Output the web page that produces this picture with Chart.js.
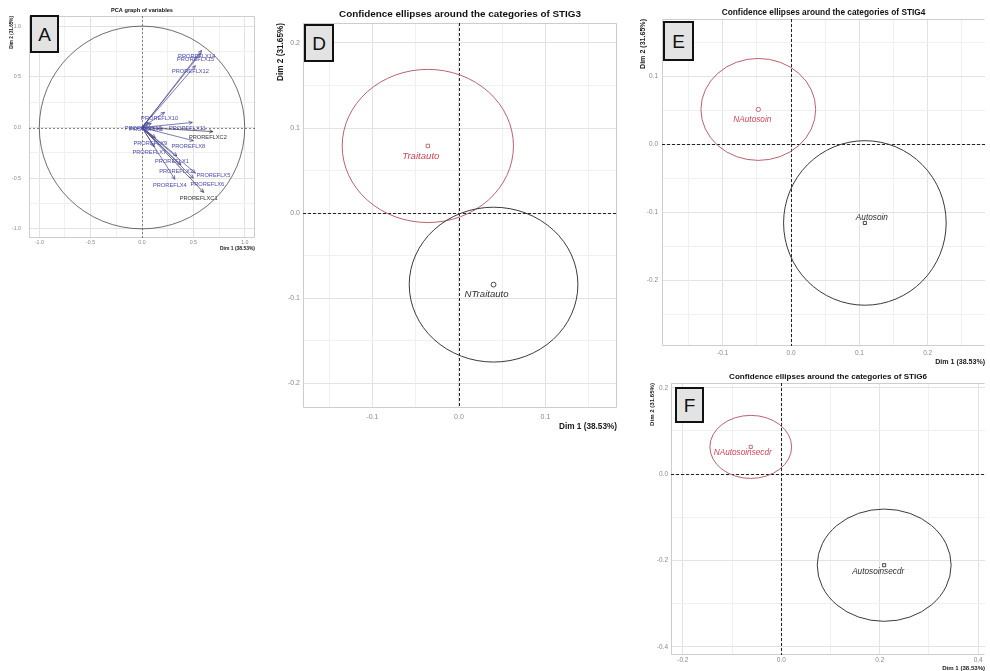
<!DOCTYPE html>
<html><head><meta charset="utf-8">
<script src="https://cdn.jsdelivr.net/npm/chart.js@4.4.1/dist/chart.umd.min.js"></script>
<style>
html,body{margin:0;padding:0;background:#fff}
body{width:990px;height:671px;overflow:hidden;position:relative}
canvas{position:absolute;display:block}
.tag{position:absolute;box-sizing:border-box;background:#e3e3e3;border:2px solid #111;color:#111;font-family:'Liberation Sans',Arial,sans-serif;font-size:19px;line-height:1;display:flex;align-items:center;justify-content:center}
</style></head><body>
<canvas id="cA" width="262" height="256" style="left:0;top:0"></canvas>
<canvas id="cD" width="360" height="440" style="left:270px;top:0"></canvas>
<canvas id="cE" width="360" height="372" style="left:630px;top:0"></canvas>
<canvas id="cF" width="360" height="306" style="left:630px;top:370px"></canvas>
<div class="tag" style="left:30px;top:15px;width:29px;height:38px">A</div>
<div class="tag" style="left:304px;top:24px;width:30px;height:38px">D</div>
<div class="tag" style="left:663px;top:21px;width:31px;height:40px">E</div>
<div class="tag" style="left:675px;top:387px;width:29px;height:36px">F</div>
<script>
// ---------------- DATA ----------------
const dimLabel1 = 'Dim 1 (38.53%)';
const dimLabel2 = 'Dim 2 (31.65%)';

// Panel A: PCA graph of variables (arrow end coordinates)
const pcaVariables = ['PROREFLX14','PROREFLX15','PROREFLX12','PROREFLX10','PROREFLX13','PROREFLX2','PROREFLX11','PROREFLXC2','PROREFLX9','PROREFLX8','PROREFLX7','PROREFLX1','PROREFLX3','PROREFLX5','PROREFLX6','PROREFLX4','PROREFLXC1'];
const pcaDim1 = [0.58, 0.57, 0.52, 0.22, 0.06, 0.09, 0.49, 0.69, 0.13, 0.50, 0.12, 0.34, 0.38, 0.52, 0.50, 0.32, 0.60];
const pcaDim2 = [0.76, 0.73, 0.61, 0.15, 0.05, 0.04, 0.05, -0.04, -0.10, -0.13, -0.19, -0.28, -0.37, -0.45, -0.50, -0.51, -0.64];
const pcaSupplementary = ['PROREFLXC1','PROREFLXC2'];

// Panel D: STIG3
const stig3Categories = ['Traitauto','NTraitauto'];
const stig3Dim1 = [-0.036, 0.040];
const stig3Dim2 = [0.079, -0.084];
const stig3SemiAxis1 = [0.099, 0.0975];
const stig3SemiAxis2 = [0.090, 0.091];

// Panel E: STIG4
const stig4Categories = ['NAutosoin','Autosoin'];
const stig4Dim1 = [-0.048, 0.108];
const stig4Dim2 = [0.051, -0.116];
const stig4SemiAxis1 = [0.084, 0.119];
const stig4SemiAxis2 = [0.075, 0.121];

// Panel F: STIG6
const stig6Categories = ['NAutosoinsecdr','Autosoinsecdr'];
const stig6Dim1 = [-0.062, 0.209];
const stig6Dim2 = [0.063, -0.211];
const stig6SemiAxis1 = [0.083, 0.136];
const stig6SemiAxis2 = [0.073, 0.130];

// ---------------- HELPERS ----------------
const FAM = "'Liberation Sans', Arial, sans-serif";
const meas = document.createElement('canvas').getContext('2d');
function fit(text, width, style){ meas.font = style + ' 100px ' + FAM; return +(100*width/meas.measureText(text).width).toFixed(2); }
function isMult(v, s){ const r = v/s; return Math.abs(r-Math.round(r)) < 1e-6; }
function fmt(v){ const r = Math.round(v*10)/10; return (Math.abs(r)<1e-9?0:r).toFixed(1); }

function axis(c, which){
  const isX = which==='x';
  const tSize = isX ? c.xTitleSize : c.yTitleSize;
  return {
    type:'linear', position: isX?'bottom':'left',
    min: isX?c.xmin:c.ymin, max: isX?c.xmax:c.ymax,
    afterFit: s => { if(isX) s.height = c.xH; else s.width = c.yW; },
    grid: { drawTicks:false, lineWidth:1,
      color: ctx => { const v = ctx.tick.value; if(!isMult(v,c.step)) return 'rgba(0,0,0,0)'; return isMult(v,c.labelStep)?'#e3e3e3':'#f0f0f0'; } },
    border: {display:false},
    ticks: { stepSize:c.step, autoSkip:false, maxRotation:0, minRotation:0, includeBounds:false,
      padding: isX ? (c.xTickY - c.chartBottom - c.tickSize*0.6) : c.yTickPad,
      color:'#8a8a8a', font:{family:FAM, size:c.tickSize},
      callback: v => isMult(v,c.labelStep)?fmt(v):'' },
    title: { display:true, text: isX?dimLabel1:dimLabel2, align:'end', color:'#1a1a1a',
      font:{family:FAM, weight:'bold', size:tSize},
      padding: isX ? {top:0, bottom: (c.H - c.xTitleY) - tSize*0.6} : {top: c.yTitleX - tSize*0.6, bottom:0} }
  };
}

function decorPlugin(c){
  return {
    id:'decor',
    beforeDatasetsDraw(chart){
      const {ctx, chartArea:a, scales:{x,y}} = chart;
      ctx.save();
      ctx.strokeStyle = '#cdcdcd'; ctx.lineWidth = 1; ctx.setLineDash([]);
      const L=Math.round(a.left)+0.5, T=Math.round(a.top)+0.5, B=Math.round(a.bottom)-0.5, R=Math.round(a.right)-0.5;
      ctx.beginPath(); ctx.moveTo(R,T); ctx.lineTo(L,T); ctx.lineTo(L,B); ctx.lineTo(R,B);
      if (c.rightBorder) ctx.lineTo(R,T);
      ctx.stroke();
      const x0 = Math.round(x.getPixelForValue(0))+0.5, y0 = Math.round(y.getPixelForValue(0))+0.5;
      ctx.strokeStyle = c.zeroColor; ctx.lineWidth = c.zeroWidth; ctx.setLineDash(c.zeroDash);
      ctx.beginPath(); ctx.moveTo(x0,a.top); ctx.lineTo(x0,a.bottom); ctx.moveTo(a.left,y0); ctx.lineTo(a.right,y0); ctx.stroke();
      ctx.setLineDash([]);
      if (c.before) c.before(chart, ctx);
      ctx.restore();
    },
    afterDatasetsDraw(chart){
      const {ctx} = chart; ctx.save();
      if (c.after) c.after(chart, ctx);
      ctx.restore();
    },
    afterDraw(chart){
      const {ctx, chartArea:a} = chart; ctx.save();
      ctx.font = 'bold ' + c.titleSize + 'px ' + FAM; ctx.fillStyle = '#111';
      ctx.textAlign='center'; ctx.textBaseline='middle';
      ctx.fillText(c.title, (a.left+a.right)/2, c.titleY);
      ctx.restore();
    }
  };
}

function makeChart(id, c, datasets){
  return new Chart(document.getElementById(id), {
    type:'scatter',
    data:{datasets},
    options:{
      responsive:false, animation:false, events:[],
      layout:{padding:c.pad},
      plugins:{legend:{display:false}, tooltip:{enabled:false}, title:{display:false}},
      scales:{x: axis(c,'x'), y: axis(c,'y')}
    },
    plugins:[decorPlugin(c)]
  });
}

// ----- ellipse panels -----
function ellipsePanel(id, c, cats, d1, d2, s1, s2, st){
  const datasets = cats.map((n,i)=>({
    label:n, data:[{x:d1[i], y:d2[i]}],
    pointStyle: st.markers[i], pointRadius: st.markerR, borderWidth:0.9,
    borderColor: st.markerColors[i], backgroundColor:'rgba(0,0,0,0)'
  }));
  const labelSize = fit(st.fitText, st.fitWidth, 'italic');
  c.before = (chart, ctx) => {
    const {x,y} = chart.scales;
    cats.forEach((n,i)=>{
      const px=x.getPixelForValue(d1[i]), py=y.getPixelForValue(d2[i]);
      const rx=Math.abs(x.getPixelForValue(d1[i]+s1[i])-px), ry=Math.abs(y.getPixelForValue(d2[i]+s2[i])-py);
      ctx.beginPath(); ctx.ellipse(px,py,rx,ry,0,0,2*Math.PI);
      ctx.strokeStyle = st.ellipseColors[i]; ctx.lineWidth = 1; ctx.stroke();
    });
  };
  c.after = (chart, ctx) => {
    const {x,y} = chart.scales;
    ctx.font = 'italic ' + labelSize + 'px ' + FAM; ctx.textAlign='center'; ctx.textBaseline='middle';
    cats.forEach((n,i)=>{
      ctx.fillStyle = st.textColors[i];
      ctx.fillText(n, x.getPixelForValue(d1[i]) + st.labelShift[i][0], y.getPixelForValue(d2[i]) + st.labelShift[i][1]);
    });
  };
  return makeChart(id, c, datasets);
}

const RED_E = '#b9626d', RED_T = '#cf4658', BLK_E = '#3a3a3a', BLK_T = '#2e2e2e';

// Panel D
ellipsePanel('cD', {
  H:440, xmin:-0.1803, xmax:0.1827, ymin:-0.229, ymax:0.2235, step:0.05, labelStep:0.1,
  pad:{left:0,right:13,top:23,bottom:0}, yW:33, xH:32, chartBottom:408,
  xTickY:417, yTickPad:3, tickSize:7,
  xTitleY:427, yTitleX:11, xTitleSize:fit(dimLabel1,58,'bold'), yTitleSize:fit(dimLabel2,58,'bold'),
  title:'Confidence ellipses around the categories of STIG3', titleSize:fit('Confidence ellipses around the categories of STIG3',242,'bold'), titleY:14,
  rightBorder:true, zeroColor:'#222', zeroWidth:1, zeroDash:[3,2]
}, stig3Categories, stig3Dim1, stig3Dim2, stig3SemiAxis1, stig3SemiAxis2, {
  markers:['rect','circle'], markerR:2.4, markerColors:[RED_E,'#333'],
  ellipseColors:[RED_E,BLK_E], textColors:[RED_T,BLK_T],
  labelShift:[[-7,10],[-7,10]], fitText:'NTraitauto', fitWidth:44
});

// Panel E
ellipsePanel('cE', {
  H:372, xmin:-0.189, xmax:0.284, ymin:-0.297, ymax:0.184, step:0.05, labelStep:0.1,
  pad:{left:0,right:0,top:19,bottom:0}, yW:32, xH:26, chartBottom:346,
  xTickY:353, yTickPad:4, tickSize:6.5,
  xTitleY:362, yTitleX:13, xTitleSize:fit(dimLabel1,50,'bold'), yTitleSize:fit(dimLabel2,50,'bold'),
  title:'Confidence ellipses around the categories of STIG4', titleSize:fit('Confidence ellipses around the categories of STIG4',204,'bold'), titleY:13,
  rightBorder:false, zeroColor:'#222', zeroWidth:1, zeroDash:[3,2]
}, stig4Categories, stig4Dim1, stig4Dim2, stig4SemiAxis1, stig4SemiAxis2, {
  markers:['circle','rect'], markerR:2.2, markerColors:[RED_E,'#333'],
  ellipseColors:[RED_E,BLK_E], textColors:[RED_T,BLK_T],
  labelShift:[[-6,10],[7,-5]], fitText:'NAutosoin', fitWidth:38
});

// Panel F
ellipsePanel('cF', {
  H:306, xmin:-0.224, xmax:0.414, ymin:-0.419, ymax:0.211, step:0.1, labelStep:0.2,
  pad:{left:0,right:0,top:13,bottom:0}, yW:41, xH:21, chartBottom:285,
  xTickY:290, yTickPad:3, tickSize:6.5,
  xTitleY:298, yTitleX:22, xTitleSize:fit(dimLabel1,43,'bold'), yTitleSize:fit(dimLabel2,43,'bold'),
  title:'Confidence ellipses around the categories of STIG6', titleSize:fit('Confidence ellipses around the categories of STIG6',198,'bold'), titleY:7,
  rightBorder:false, zeroColor:'#222', zeroWidth:1, zeroDash:[3,2]
}, stig6Categories, stig6Dim1, stig6Dim2, stig6SemiAxis1, stig6SemiAxis2, {
  markers:['rect','rect'], markerR:2.2, markerColors:[RED_E,'#333'],
  ellipseColors:[RED_E,BLK_E], textColors:[RED_T,BLK_T],
  labelShift:[[-8,6],[-6,7]], fitText:'NAutosoinsecdr', fitWidth:58
});

// Panel A
(function(){
  const ACT = '#42428c', ACT_T = '#4b4bae', SUP = '#2a2a2a';
  const labelShift = {PROREFLX5:[18,2], PROREFLX6:[14,6]};
  const datasets = pcaVariables.map((n,i)=>({
    label:n, showLine:true, pointRadius:0,
    data:[{x:0,y:0},{x:pcaDim1[i], y:pcaDim2[i]}],
    borderColor: pcaSupplementary.includes(n)?SUP:ACT, borderWidth:0.7
  }));
  const labelSize = fit('PROREFLX10', 37, '');
  const c = {
    H:256, xmin:-1.1, xmax:1.1, ymin:-1.09, ymax:1.1, step:0.25, labelStep:0.5,
    pad:{left:0,right:7,top:16,bottom:0}, yW:29, xH:18, chartBottom:238,
    xTickY:242.5, yTickPad:8, tickSize:5.3,
    xTitleY:249, yTitleX:12, xTitleSize:fit(dimLabel1,35,'bold'), yTitleSize:fit(dimLabel2,33,'bold'),
    title:'PCA graph of variables', titleSize:fit('PCA graph of variables',62,'bold'), titleY:10,
    rightBorder:true, zeroColor:'#555', zeroWidth:0.7, zeroDash:[2,2]
  };
  c.before = (chart, ctx) => {
    const {x,y} = chart.scales;
    const cx=x.getPixelForValue(0), cy=y.getPixelForValue(0);
    ctx.beginPath();
    ctx.ellipse(cx, cy, x.getPixelForValue(1)-cx, cy-y.getPixelForValue(1), 0, 0, 2*Math.PI);
    ctx.strokeStyle='#4a4a4a'; ctx.lineWidth=0.8; ctx.stroke();
  };
  c.after = (chart, ctx) => {
    ctx.font = labelSize + 'px ' + FAM; ctx.textAlign='center'; ctx.textBaseline='middle';
    pcaVariables.forEach((n,i)=>{
      const meta = chart.getDatasetMeta(i);
      const p0 = meta.data[0], p1 = meta.data[1];
      const ang = Math.atan2(p1.y-p0.y, p1.x-p0.x);
      const col = pcaSupplementary.includes(n)?SUP:ACT;
      ctx.strokeStyle = col; ctx.lineWidth = 0.7;
      ctx.beginPath();
      ctx.moveTo(p1.x - 4*Math.cos(ang-0.45), p1.y - 4*Math.sin(ang-0.45));
      ctx.lineTo(p1.x, p1.y);
      ctx.lineTo(p1.x - 4*Math.cos(ang+0.45), p1.y - 4*Math.sin(ang+0.45));
      ctx.stroke();
      const sh = labelShift[n] || [-5, 6];
      ctx.fillStyle = pcaSupplementary.includes(n)?'#333':ACT_T;
      ctx.fillText(n, p1.x + sh[0], p1.y + sh[1]);
    });
  };
  makeChart('cA', c, datasets);
})();
</script>
</body></html>
